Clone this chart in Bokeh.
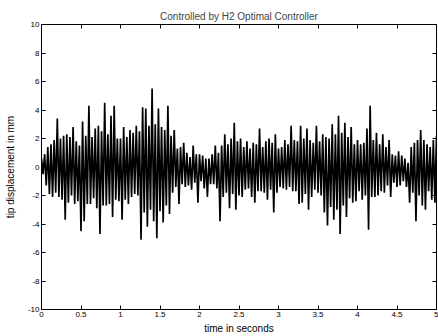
from bokeh.plotting import figure
from bokeh.models import LinearAxis, FixedTicker, ColumnDataSource, CustomLabelingPolicy
from bokeh.embed import file_html
from bokeh.resources import INLINE

title_text = "Controlled by H2 Optimal Controller"
x_label = "time in seconds"
y_label = "tip displacement in mm"

x_ticks = [0, 0.5, 1, 1.5, 2, 2.5, 3, 3.5, 4, 4.5, 5]
x_tick_labels = ["0", "0.5", "1", "1.5", "2", "2.5", "3", "3.5", "4", "4.5", "5"]
y_ticks = [-10, -8, -6, -4, -2, 0, 2, 4, 6, 8, 10]
y_tick_labels = ["-10", "-8", "-6", "-4", "-2", "0", "2", "4", "6", "8", "10"]

# sampling step of the trace (seconds)
dt = 0.02

# tip displacement (mm), one row per half second
disp_0_0 = [0.6, -0.5, 0.9, -1.3, 1.4, -1.9, 1.6, -2.1, 1.9, -1.8, 3.4, -2.1, 2.0, -2.3, 2.2, -3.7,
            2.3, -2.5, 2.1, -2.0, 2.8, -2.6, 1.8, -2.4, 1.5]
disp_0_5 = [-4.5, 3.2, -3.8, 2.2, -2.6, 4.3, -2.6, 2.1, -2.2, 2.7, -2.9, 2.9, -4.7, 2.5, -2.7, 4.5,
            -2.7, 2.3, -2.6, 3.6, -3.5, 4.3, -2.3, 2.0, -2.4]
disp_1_0 = [2.0, -3.7, 2.8, -2.3, 2.1, -2.6, 2.6, -2.1, 2.4, -1.9, 2.9, -2.0, 2.5, -5.1, 4.2, -3.2,
            4.1, -4.2, 2.9, -3.0, 5.5, -3.8, 3.0, -5.0, 4.1]
disp_1_5 = [-3.1, 2.8, -3.9, 2.6, -2.7, 4.3, -3.3, 2.2, -1.8, 2.6, -1.4, 1.3, -2.6, 1.4, -1.2, 1.7,
            -1.4, 1.0, -1.3, 0.7, -1.6, 1.5, -1.1, 0.9, -2.5]
disp_2_0 = [0.9, -1.0, 0.8, -1.5, 0.6, -2.1, 0.6, -1.2, 0.9, -1.2, 1.5, -1.5, 1.0, -3.8, 1.5, -2.1,
            2.3, -1.8, 1.6, -2.9, 2.0, -1.9, 3.1, -3.0, 1.8]
disp_2_5 = [-2.0, 2.0, -2.1, 1.4, -1.6, 1.8, -1.5, 1.3, -2.1, 1.7, -2.5, 1.6, -1.7, 2.7, -1.7, 1.4,
            -1.8, 1.8, -2.3, 2.0, -1.6, 1.7, -3.2, 2.3, -1.8]
disp_3_0 = [1.3, -1.4, 1.4, -1.5, 1.9, -1.6, 1.6, -1.4, 2.9, -1.7, 1.9, -1.7, 1.8, -2.6, 2.9, -2.5,
            2.0, -1.9, 2.7, -3.0, 1.9, -2.1, 1.7, -1.6, 2.9]
disp_3_5 = [-1.8, 1.8, -2.0, 2.3, -3.2, 2.1, -4.1, 2.0, -2.8, 3.0, -3.7, 2.3, -3.0, 3.6, -4.7, 2.4,
            -2.7, 3.1, -3.5, 2.1, -2.2, 2.8, -2.5, 1.6, -2.4]
disp_4_0 = [1.9, -1.7, 1.6, -2.3, 1.7, -2.0, 2.7, -4.4, 4.3, -2.1, 1.9, -2.1, 2.4, -2.0, 1.6, -1.7,
            2.3, -1.8, 1.4, -1.3, 1.9, -2.1, 0.9, -1.1, 0.8]
disp_4_5 = [-1.4, 1.1, -1.3, 0.8, -1.0, 0.6, -1.4, 0.3, -2.5, 1.4, -1.8, 1.7, -3.8, 1.9, -2.0, 2.6,
            -2.7, 1.9, -3.0, 1.6, -1.7, 1.4, -2.3, 1.9, -2.5]
disp_5_0 = [2.2]

disp = (disp_0_0 + disp_0_5 + disp_1_0 + disp_1_5 + disp_2_0 + disp_2_5 + disp_3_0 + disp_3_5
        + disp_4_0 + disp_4_5 + disp_5_0)
times = [round(i * dt, 4) for i in range(len(disp))]
src = ColumnDataSource(data=dict(t=times, v=disp))

FONT = "Liberation Sans"

p = figure(width=438, height=336, x_range=(0, 5), y_range=(-10, 10),
           output_backend="svg", toolbar_location=None,
           min_border_left=41, min_border_right=2, min_border_top=24, min_border_bottom=24,
           background_fill_color="white", border_fill_color="white")

p.title.text = title_text
p.title.text_font = FONT
p.title.text_font_size = "10px"
p.title.text_font_style = "normal"
p.title.align = "center"
p.title.standoff = 5
p.title.offset = 0

p.line("t", "v", source=src, line_color="black", line_width=1.7)

p.xgrid.visible = False
p.ygrid.visible = False
p.outline_line_color = "black"
p.outline_line_width = 1

for ax in (p.xaxis[0], p.yaxis[0]):
    ax.major_tick_in = 4
    ax.major_tick_out = 0
    ax.minor_tick_line_color = None
    ax.axis_line_color = "black"
    ax.major_label_text_font = FONT
    ax.major_label_text_font_size = "8px"
    ax.major_label_text_color = "black"
    ax.axis_label_text_font = FONT
    ax.axis_label_text_font_size = "10px"
    ax.axis_label_text_font_style = "normal"
    ax.axis_label_text_color = "black"

p.xaxis.ticker = FixedTicker(ticks=x_ticks)
p.xaxis.major_label_overrides = dict(zip(x_ticks, x_tick_labels))
p.xaxis.axis_label = x_label
p.xaxis.major_label_standoff = 2
p.xaxis.axis_label_standoff = 3

p.yaxis.ticker = FixedTicker(ticks=y_ticks)
p.yaxis.major_label_overrides = dict(zip(y_ticks, y_tick_labels))
p.yaxis.axis_label = y_label
p.yaxis.major_label_standoff = 2
p.yaxis.axis_label_standoff = 9

no_labels = "return new Set()"
top_axis = LinearAxis(ticker=FixedTicker(ticks=x_ticks), major_tick_in=4, major_tick_out=0,
                      minor_tick_line_color=None, major_label_text_font_size="0px",
                      major_label_standoff=0,
                      major_label_policy=CustomLabelingPolicy(code=no_labels))
right_axis = LinearAxis(ticker=FixedTicker(ticks=y_ticks), major_tick_in=4, major_tick_out=0,
                        minor_tick_line_color=None, major_label_text_font_size="0px",
                        major_label_standoff=0,
                        major_label_policy=CustomLabelingPolicy(code=no_labels))
p.add_layout(top_axis, "above")
p.add_layout(right_axis, "right")

open("out.html", "w").write(file_html(p, INLINE))
